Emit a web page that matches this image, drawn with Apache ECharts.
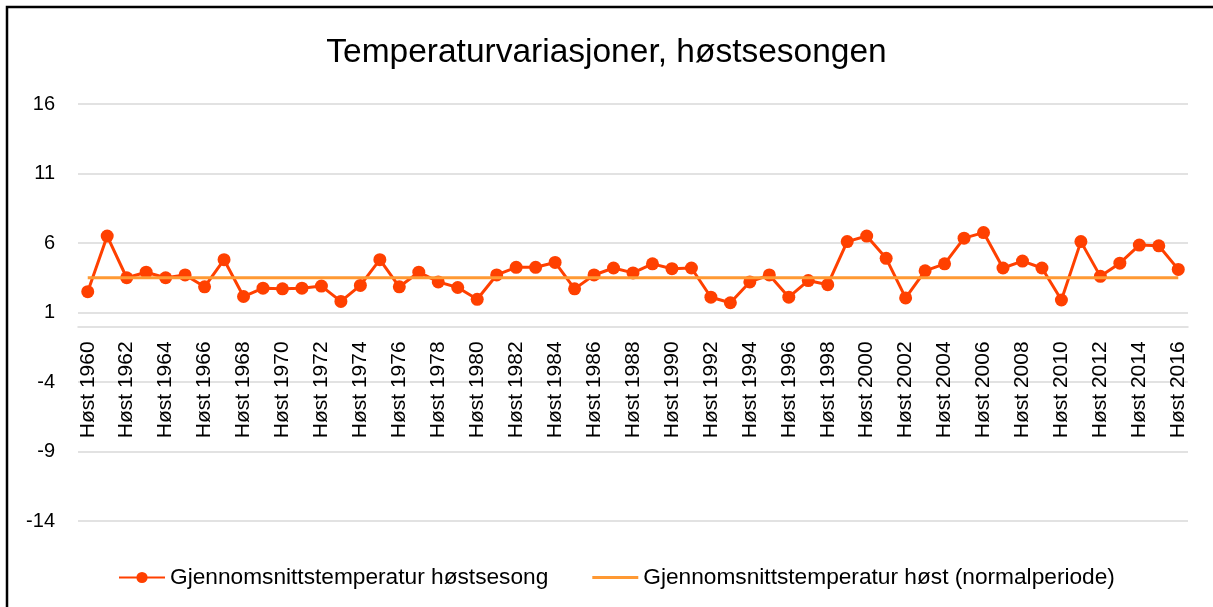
<!DOCTYPE html>
<html>
<head>
<meta charset="utf-8">
<script src="https://cdn.jsdelivr.net/npm/echarts@6/dist/echarts.min.js"></script>
<style>
  html, body { margin: 0; padding: 0; background: #ffffff; }
  #chart { width: 1213px; height: 607px; }
</style>
</head>
<body>
<div id="chart"></div>
<script>
// år 1960 - 2016
const years = [];
for (let y = 1960; y <= 2016; y++) years.push("Høst " + y);

// gjennomsnittstemperatur per høst
const seasonTemp = [
  2.5, 6.5, 3.5, 3.9, 3.5, 3.7, 2.85, 4.8, 2.15, 2.75,
  2.7, 2.75, 2.9, 1.8, 2.95, 4.8, 2.85, 3.9, 3.2, 2.8,
  1.95, 3.7, 4.25, 4.25, 4.6, 2.7, 3.7, 4.2, 3.85, 4.5,
  4.15, 4.2, 2.1, 1.7, 3.2, 3.7, 2.1, 3.3, 3.0, 6.1,
  6.5, 4.9, 2.05, 4.0, 4.5, 6.35, 6.75, 4.2, 4.7, 4.2,
  1.9, 6.1, 3.6, 4.55, 5.85, 5.8, 4.1
];

// normalperiode
const normalTemp = years.map(() => 3.5);

const gridTop = 104;
const gridBottom = 86;
const gridH = 607 - gridTop - gridBottom;
const yMin = -14, yMax = 16;
// x-aksen krysser ved 0
const zeroOffset = -(gridH * (0 - yMin) / (yMax - yMin));

let myChart = echarts.init(document.getElementById("chart"));

let option = {
  animation: false,
  textStyle: { fontFamily: "Liberation Sans" },
  title: {
    text: "Temperaturvariasjoner, høstsesongen",
    left: "center",
    top: 31,
    textStyle: { fontSize: 33.5, fontWeight: "normal", color: "#000" },
  },
  graphic: [
    {
      type: "rect",
      shape: { x: 7, y: 7, width: 1300, height: 700 },
      style: { fill: null, stroke: "#000", lineWidth: 2.5 },
      silent: true,
    },
  ],
  grid: {
    left: 78,
    right: 25,
    top: gridTop,
    bottom: gridBottom,
    outerBoundsMode: "none",
  },
  legend: {
    top: 561,
    left: 113,
    itemGap: 44,
    itemWidth: 46,
    itemHeight: 14,
    textStyle: { fontSize: 22.7, color: "#000" },
    data: [
      { name: "Gjennomsnittstemperatur høstsesong" },
      {
        name: "Gjennomsnittstemperatur høst (normalperiode)",
        icon: "path://M0,0 L46,0 L46,3 L0,3 Z",
      },
    ],
  },
  xAxis: {
    type: "category",
    data: years,
    offset: zeroOffset,
    axisLine: { onZero: false, lineStyle: { color: "#d9d9d9", width: 1.5 } },
    axisTick: { show: false },
    axisLabel: {
      interval: 1,
      rotate: 90,
      fontSize: 21,
      color: "#000",
      margin: 15,
    },
  },
  yAxis: {
    type: "value",
    min: yMin,
    max: yMax,
    interval: 5,
    axisLine: { show: false },
    axisTick: { show: false },
    axisLabel: { fontSize: 20, color: "#000", margin: 23 },
    splitLine: { lineStyle: { color: "#d9d9d9", width: 1.5 } },
  },
  series: [
    {
      name: "Gjennomsnittstemperatur høstsesong",
      type: "line",
      data: seasonTemp,
      symbol: "circle",
      symbolSize: 13,
      showAllSymbol: true,
      lineStyle: { color: "#ff4000", width: 3 },
      itemStyle: { color: "#ff4000" },
      z: 2,
    },
    {
      name: "Gjennomsnittstemperatur høst (normalperiode)",
      type: "line",
      data: normalTemp,
      symbol: "none",
      lineStyle: { color: "#ff9933", width: 3 },
      itemStyle: { color: "#ff9933" },
      z: 3,
    },
  ],
};

myChart.setOption(option);
</script>
</body>
</html>
